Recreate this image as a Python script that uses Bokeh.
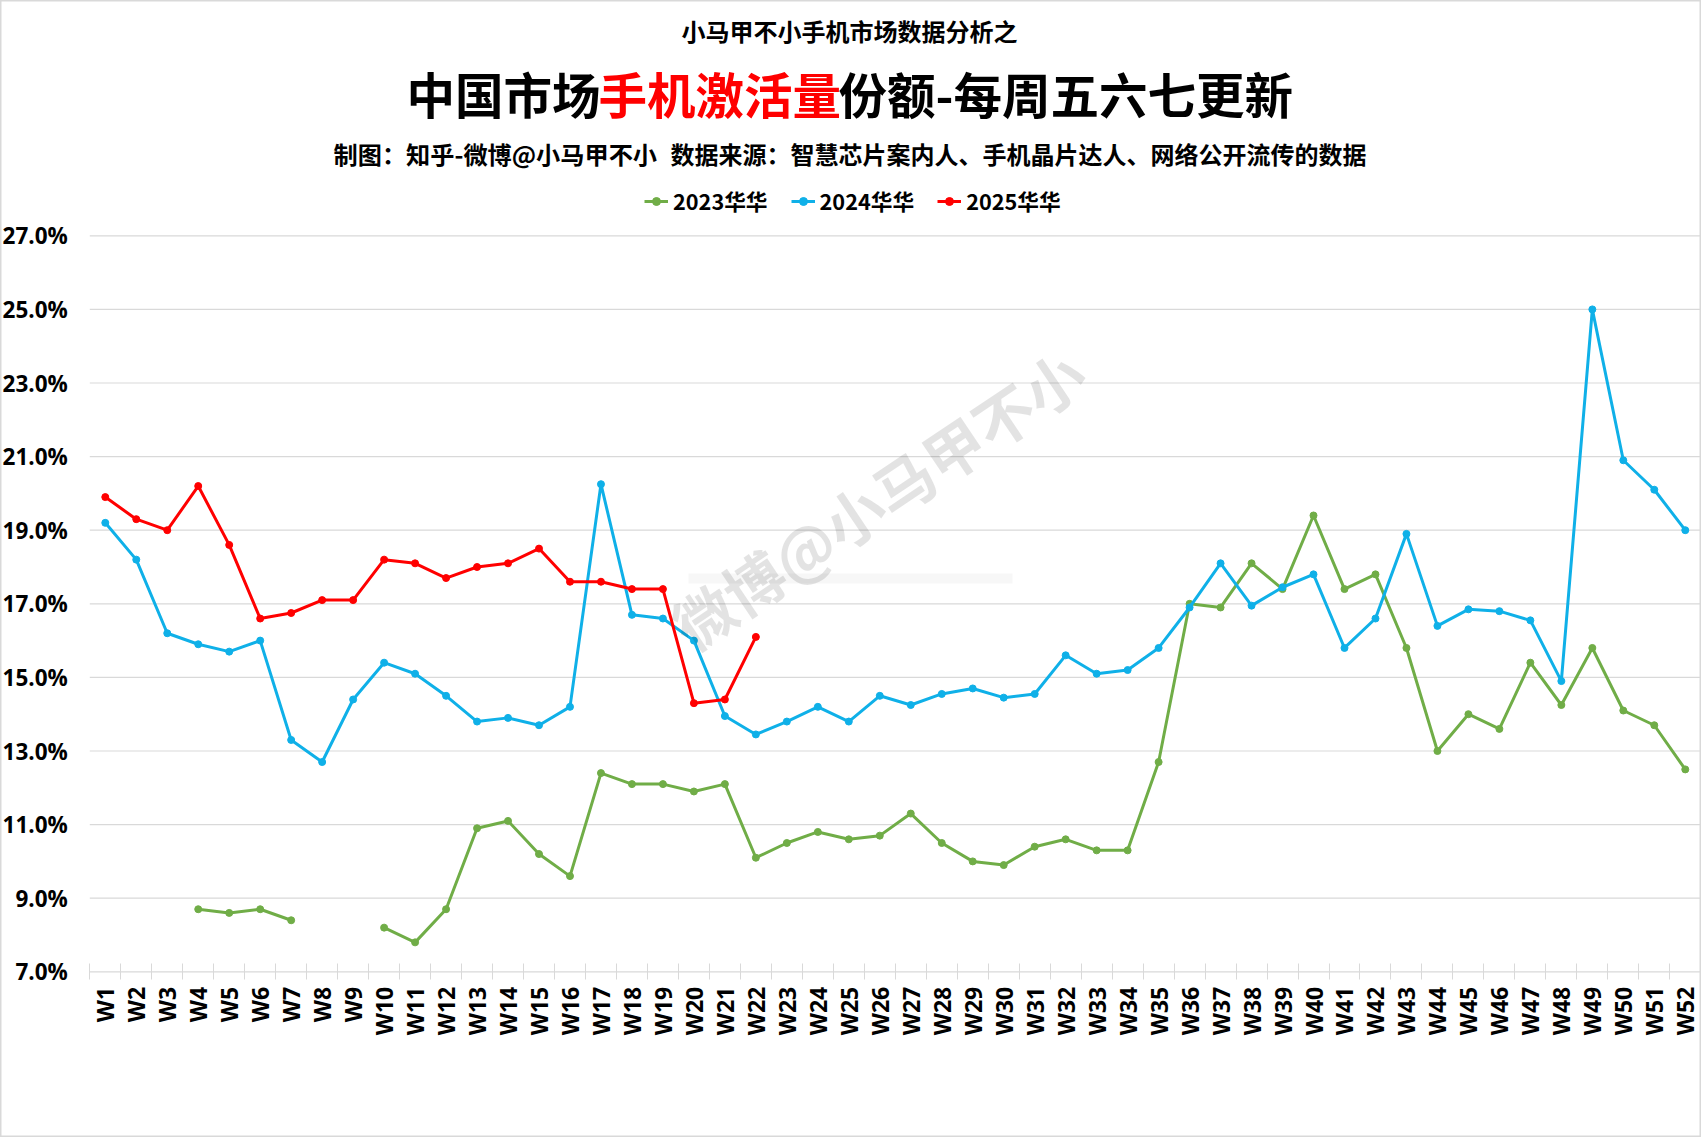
import math
from bokeh.plotting import figure
from bokeh.models import Range1d, FixedTicker, Label, Legend, LegendItem, BoxAnnotation
from bokeh.embed import file_html
from bokeh.resources import INLINE

weeks = [f"W{i}" for i in range(1, 53)]
n = float("nan")
hua_2023 = [n, n, n, 8.7, 8.6, 8.7, 8.4, n, n, 8.2, 7.8, 8.7, 10.9, 11.1, 10.2, 9.6, 12.4, 12.1, 12.1, 11.9,
            12.1, 10.1, 10.5, 10.8, 10.6, 10.7, 11.3, 10.5, 10.0, 9.9, 10.4, 10.6, 10.3, 10.3, 12.7, 17.0,
            16.9, 18.1, 17.4, 19.4, 17.4, 17.8, 15.8, 13.0, 14.0, 13.6, 15.4, 14.25, 15.8, 14.1, 13.7, 12.5]
hua_2024 = [19.2, 18.2, 16.2, 15.9, 15.7, 16.0, 13.3, 12.7, 14.4, 15.4, 15.1, 14.5, 13.8, 13.9, 13.7, 14.2,
            20.25, 16.7, 16.6, 16.0, 13.95, 13.45, 13.8, 14.2, 13.8, 14.5, 14.25, 14.55, 14.7, 14.45, 14.55,
            15.6, 15.1, 15.2, 15.8, 16.9, 18.1, 16.95, 17.45, 17.8, 15.8, 16.6, 18.9, 16.4, 16.85, 16.8,
            16.55, 14.9, 25.0, 20.9, 20.1, 19.0]
hua_2025 = [19.9, 19.3, 19.0, 20.2, 18.6, 16.6, 16.75, 17.1, 17.1, 18.2, 18.1, 17.7, 18.0, 18.1, 18.5, 17.6,
            17.6, 17.4, 17.4, 14.3, 14.4, 16.1]
y_ticks = [7, 9, 11, 13, 15, 17, 19, 21, 23, 25, 27]

CJK = "Noto Sans CJK SC"
LATIN = "Open Sans"
GRID = "#D9D9D9"

W, H = 1701, 1137
PX_X = 30.98
PX_Y = 36.8
X0 = 89.3    # figure pixel of x = 0.5
Y7 = 971.3   # figure pixel of y = 7
x_min = 0.5 - X0 / PX_X
x_max = x_min + W / PX_X
y_min = 7 - (H - Y7) / PX_Y
y_max = y_min + H / PX_Y

p = figure(width=W, height=H, output_backend="svg", toolbar_location=None,
           x_range=Range1d(x_min, x_max), y_range=Range1d(y_min, y_max),
           min_border_left=0, min_border_right=0, min_border_top=0, min_border_bottom=0)
p.outline_line_color = GRID
p.outline_line_width = 2
p.background_fill_color = "white"
p.border_fill_color = "white"
p.grid.visible = False

xs = list(range(1, 53))
p.segment(x0=[0.5] * len(y_ticks), x1=[52.5] * len(y_ticks), y0=y_ticks, y1=y_ticks,
          line_color=GRID, line_width=1.2)

ax = p.xaxis[0]
ax.fixed_location = 7
ax.bounds = (0.5, 52.5)
ax.ticker = FixedTicker(ticks=xs, minor_ticks=[i + 0.5 for i in range(0, 53)])
ax.major_label_overrides = {i + 1: w for i, w in enumerate(weeks)}
ax.major_label_orientation = math.pi / 2
ax.major_label_text_font = LATIN
ax.major_label_text_font_style = "bold"
ax.major_label_text_font_size = "23px"
ax.major_label_text_color = "black"
ax.major_label_standoff = 7
ax.major_tick_line_color = None
ax.major_tick_in = 0
ax.major_tick_out = 0
ax.minor_tick_line_color = GRID
ax.minor_tick_in = 8
ax.minor_tick_out = 8
ax.axis_line_color = None

ay = p.yaxis[0]
ay.fixed_location = 0.5
ay.ticker = FixedTicker(ticks=y_ticks)
ay.major_label_overrides = {v: f"{v}.0%" for v in y_ticks}
ay.major_label_text_font = LATIN
ay.major_label_text_font_style = "bold"
ay.major_label_text_font_size = "22.5px"
ay.major_label_text_color = "black"
ay.major_label_standoff = 22
ay.major_tick_line_color = None
ay.minor_tick_line_color = None
ay.major_tick_in = 0
ay.major_tick_out = 0
ay.axis_line_color = None

items = []
for label, vals, col in [("2023华华", hua_2023, "#70AD47"), ("2024华华", hua_2024, "#0FB0E8"), ("2025华华", hua_2025, "#FF0000")]:
    x = xs[:len(vals)]
    l = p.line(x, vals, line_color=col, line_width=3, line_join="round")
    c = p.scatter(x, vals, size=7, fill_color=col, line_color=col)
    items.append(LegendItem(label=label, renderers=[l, c]))

legend = Legend(items=items, orientation="horizontal", location=(644, H - 216),
                label_text_font=CJK, label_text_font_style="bold", label_text_font_size="21.7px",
                label_text_color="black", glyph_width=24, glyph_height=20, spacing=23, padding=0, margin=0,
                label_standoff=5, border_line_color=None, background_fill_alpha=0)
p.add_layout(legend, "center")

def T(text, x, y, size, color="black", align="left", angle=0.0, alpha=1.0):
    lab = Label(x=x, y=H - y, x_units="screen", y_units="screen", text=text,
                text_font=CJK, text_font_style="bold", text_font_size=f"{size}px",
                text_color=color, text_align=align, text_baseline="middle", angle=angle, text_alpha=alpha)
    p.add_layout(lab)

T("小马甲不小手机市场数据分析之", 681, 30, 24)
T("中国市场", 406, 92, 48.5)
T("手机激活量", 598, 92, 48.5, color="#FF0000")
T("份额-每周五六七更新", 838, 92, 48.5)
T("制图：知乎-微博@小马甲不小", 333, 153, 24.2)
T("数据来源：智慧芯片案内人、手机晶片达人、网络公开流传的数据", 670, 153, 24)
T("微博@小马甲不小", 877, 497, 60, color="black", align="center", angle=math.radians(33.8), alpha=0.11)

p.add_layout(BoxAnnotation(left=688, right=1012, top=H - 573, bottom=H - 583,
                           left_units="screen", right_units="screen", top_units="screen", bottom_units="screen",
                           fill_color="black", fill_alpha=0.03, line_color=None))

open("out.html", "w").write(file_html(p, INLINE))
